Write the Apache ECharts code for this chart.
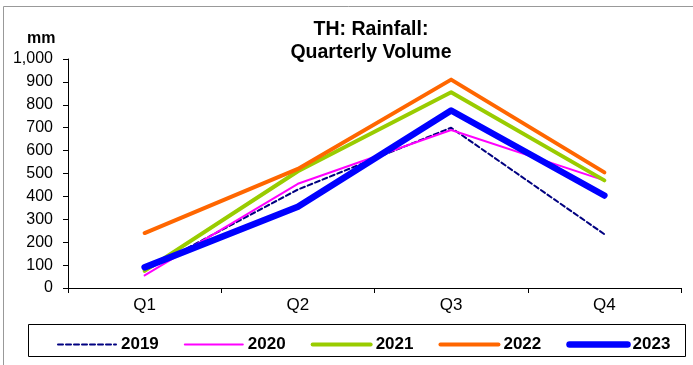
<!DOCTYPE html>
<html>
<head>
<meta charset="utf-8">
<script src="https://cdn.jsdelivr.net/npm/echarts@6/dist/echarts.min.js"></script>
<style>
  html, body { margin: 0; padding: 0; background: #fff; }
  #chart { width: 693px; height: 365px; }
</style>
</head>
<body>
<div id="chart"></div>
<script>
const quarters = ["Q1", "Q2", "Q3", "Q4"];
const years = ["2019", "2020", "2021", "2022", "2023"];
const y2019 = [75, 430, 700, 235];
const y2020 = [55, 455, 690, 470];
const y2021 = [75, 510, 855, 470];
const y2022 = [240, 520, 910, 505];
const y2023 = [90, 355, 775, 404];

const colors = ["#000080", "#FF00FF", "#99CC00", "#FF6600", "#0000FF"];
const widths = [2, 2, 4, 4, 6.5];

const chart = echarts.init(document.getElementById("chart"));

function line(i, data) {
  return {
    name: years[i],
    type: "line",
    data: data,
    symbol: "none",
    animation: false,
    lineStyle: { color: colors[i], width: widths[i], type: i === 0 ? [5, 3] : "solid", cap: "round", join: "round" },
    itemStyle: { color: colors[i] },
    z: 2 + i
  };
}

chart.setOption({
  textStyle: { fontFamily: "Liberation Sans, Arial, sans-serif" },
  title: {
    text: "TH: Rainfall:\nQuarterly Volume",
    left: 366,
    textAlign: "center",
    top: 13,
    textStyle: { fontSize: 19.5, fontWeight: "bold", color: "#000", lineHeight: 23 }
  },
  graphic: [
    { type: "rect", shape: { x: 3.5, y: 6.5, width: 700, height: 400 }, style: { fill: "none", stroke: "#999", lineWidth: 1 }, silent: true },
    { type: "rect", shape: { x: 28.5, y: 324.5, width: 657, height: 32 }, style: { fill: "none", stroke: "#000", lineWidth: 1 }, silent: true },
    { type: "text", left: 27, top: 31, style: { text: "mm", font: "bold 16px Liberation Sans, Arial, sans-serif", fill: "#000" } }
  ],
  legend: {
    left: 52,
    top: 331,
    itemWidth: 58,
    itemHeight: 18,
    itemGap: 25,
    itemStyle: { opacity: 0 },
    textStyle: { fontSize: 17, fontWeight: "bold", color: "#000" },
    data: years.map((y, i) => ({
      name: y,
      lineStyle: { width: widths[i], color: colors[i], type: i === 0 ? [5, 3] : "solid", cap: "round" }
    }))
  },
  grid: { left: 68, right: 12, top: 59, bottom: 77 },
  xAxis: {
    type: "category",
    data: quarters,
    boundaryGap: true,
    axisLine: { lineStyle: { color: "#000", width: 1 } },
    axisTick: { show: true, length: 5, lineStyle: { color: "#000" } },
    axisLabel: { color: "#000", fontSize: 17, margin: 9 }
  },
  yAxis: {
    type: "value",
    min: 0,
    max: 1000,
    interval: 100,
    splitLine: { show: false },
    axisLine: { show: true, lineStyle: { color: "#000", width: 1 } },
    axisTick: { show: true, length: 5, lineStyle: { color: "#000" } },
    axisLabel: {
      color: "#000",
      fontSize: 16,
      margin: 15,
      formatter: function (v) { return v.toLocaleString("en-US"); }
    }
  },
  series: [
    line(0, y2019),
    line(1, y2020),
    line(2, y2021),
    line(3, y2022),
    line(4, y2023)
  ]
});
</script>
</body>
</html>
